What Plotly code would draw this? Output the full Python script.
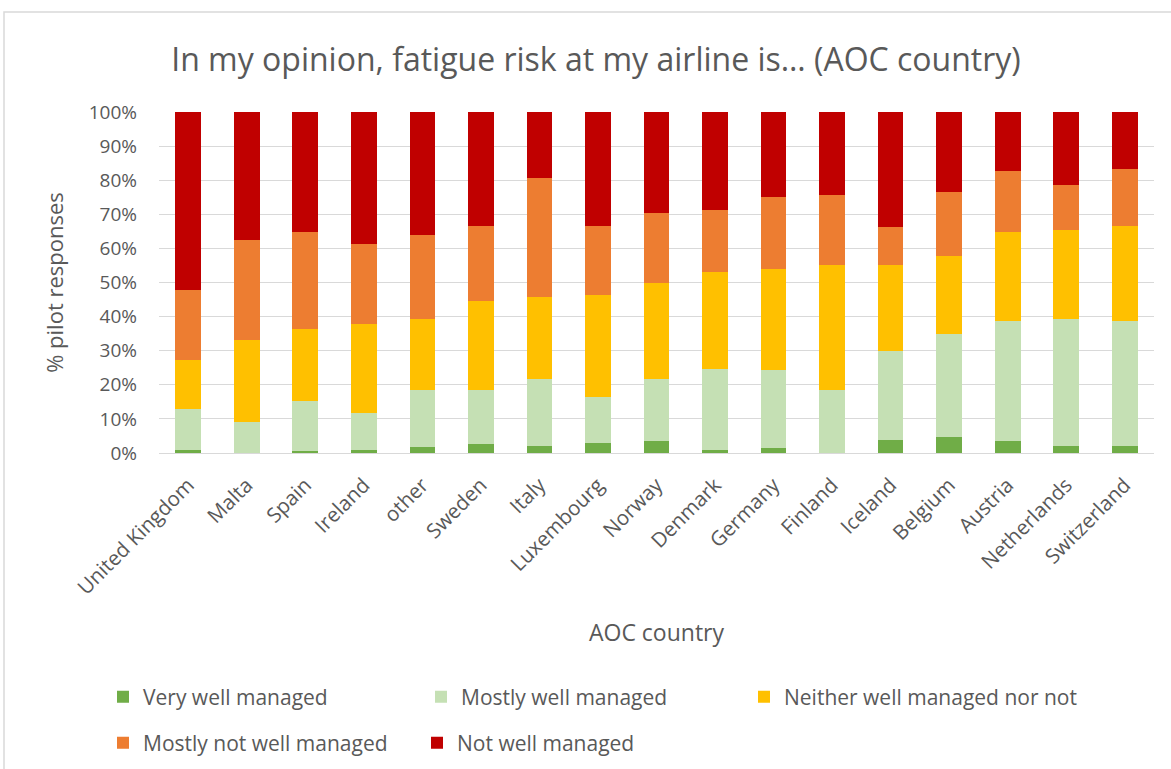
import plotly.graph_objects as go

# AOC countries in display order
countries = ["United Kingdom", "Malta", "Spain", "Ireland", "other", "Sweden", "Italy",
             "Luxembourg", "Norway", "Denmark", "Germany", "Finland", "Iceland",
             "Belgium", "Austria", "Netherlands", "Switzerland"]

# Share of pilot responses (%) per answer category
very_well = [1.0, 0.0, 0.5, 1.0, 1.7, 2.5, 2.1, 2.8, 3.6, 1.0, 1.4, 0.0, 3.9, 4.6, 3.6, 2.1, 2.1]
mostly_well = [11.9, 9.2, 14.7, 10.8, 16.9, 16.1, 19.5, 13.5, 18.0, 23.7, 23.0, 18.6, 25.9, 30.2, 35.0, 37.2, 36.5]
neither = [14.4, 23.8, 21.1, 26.1, 20.7, 25.9, 24.1, 29.9, 28.2, 28.5, 29.5, 36.5, 25.3, 22.9, 26.3, 26.0, 28.1]
mostly_not = [20.6, 29.6, 28.6, 23.5, 24.5, 22.2, 35.0, 20.5, 20.7, 18.1, 21.1, 20.6, 11.2, 18.8, 17.7, 13.2, 16.6]
not_well = [52.1, 37.4, 35.1, 38.6, 36.2, 33.3, 19.3, 33.3, 29.5, 28.7, 25.0, 24.3, 33.7, 23.5, 17.4, 21.5, 16.7]

series = [
    ("Very well managed", very_well, "#70ad47"),
    ("Mostly well managed", mostly_well, "#c5e0b4"),
    ("Neither well managed nor not", neither, "#ffc000"),
    ("Mostly not well managed", mostly_not, "#ed7d31"),
    ("Not well managed", not_well, "#c00000"),
]

FONT = "Open Sans"
GREY = "#595959"
W, H = 1171, 769
L, R, T, B = 159, 17, 112, 316
PW, PH = W - L - R, H - T - B

def px_x(px):
    return (px - L) / PW

def px_y(py):
    return (H - B - py) / PH

# legend slots (left edge, vertical centre) in pixels
legend_slots = [(103, 697), (421, 697), (744, 697), (103, 743), (417, 743)]

fig = go.Figure()
layout_legends = {}
for i, (name, vals, color) in enumerate(series):
    key = "legend" if i == 0 else f"legend{i + 1}"
    fig.add_trace(go.Bar(
        x=countries, y=vals, name=name,
        marker=dict(color=color, line=dict(width=0)),
        legend=key,
    ))
    lx, ly = legend_slots[i]
    layout_legends[key] = dict(
        x=px_x(lx), y=px_y(ly), xanchor="left", yanchor="middle",
        xref="paper", yref="paper",
        font=dict(family=FONT, size=21, color=GREY),
        bgcolor="rgba(0,0,0,0)",
    )

fig.update_layout(
    width=W, height=H,
    barmode="stack", barnorm="percent", bargap=0.56,
    margin=dict(l=L, r=R, t=T, b=B, autoexpand=False),
    paper_bgcolor="white", plot_bgcolor="white",
    font=dict(family=FONT, color=GREY),
    title=dict(
        text="In my opinion, fatigue risk at my airline is… (AOC country)",
        x=596 / W, y=1 - 60 / H, xanchor="center", yanchor="middle",
        font=dict(family=FONT, size=32, color=GREY),
    ),
    xaxis=dict(
        tickangle=-45, tickfont=dict(family=FONT, size=20.5, color=GREY),
        showline=True, linecolor="#d9d9d9", linewidth=1,
        ticks="", automargin=False, ticklabelstandoff=11,
        title=dict(text="AOC country", font=dict(family=FONT, size=23, color=GREY), standoff=25),
    ),
    yaxis=dict(
        range=[0, 100], dtick=10, ticksuffix="%",
        tickfont=dict(family=FONT, size=19, color=GREY),
        showgrid=True, gridcolor="#d9d9d9", gridwidth=1,
        zeroline=False, ticks="", automargin=False, ticklabelstandoff=21,
        title=dict(text="% pilot responses", font=dict(family=FONT, size=22, color=GREY), standoff=18),
    ),
    showlegend=True,
    shapes=[dict(
        type="rect", xref="paper", yref="paper",
        x0=px_x(4), x1=px_x(1180), y0=px_y(780), y1=px_y(12),
        line=dict(color="#d9d9d9", width=1.5), fillcolor="rgba(0,0,0,0)", layer="below",
    )],
    **layout_legends,
)

fig.write_html("out.html")
